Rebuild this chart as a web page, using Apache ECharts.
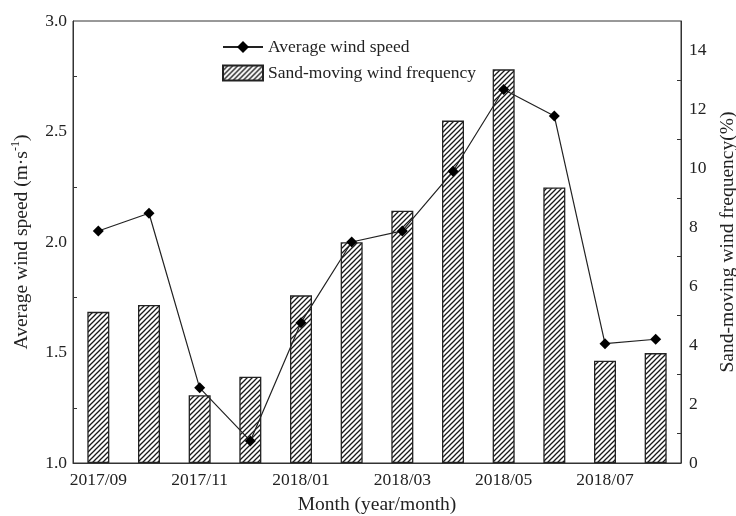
<!DOCTYPE html>
<html>
<head>
<meta charset="utf-8">
<script src="https://cdn.jsdelivr.net/npm/echarts@6/dist/echarts.min.js"></script>
<style>
  html, body { margin: 0; padding: 0; background: #fff; }
  #chart { width: 736px; height: 516px; }
</style>
</head>
<body>
<div id="chart"></div>
<script>
// Monthly observations, Sept 2017 – Aug 2018
const months = ['2017/09', '2017/10', '2017/11', '2017/12', '2018/01', '2018/02',
                '2018/03', '2018/04', '2018/05', '2018/06', '2018/07', '2018/08'];
// Average wind speed, m/s
const windSpeed = [2.05, 2.13, 1.34, 1.10, 1.635, 2.00, 2.05, 2.32, 2.69, 2.57, 1.54, 1.56];
// Sand-moving wind frequency, %
const sandFreq = [5.13, 5.36, 2.30, 2.93, 5.69, 7.49, 8.56, 11.62, 13.36, 9.35, 3.47, 3.73];

const FONT = 'Liberation Serif';
const INK = '#222';
const LABEL_SIZE = 17.5;
const TITLE_SIZE = 19.5;

// diagonal hatch fill for the bars
function hatch() {
  const s = 5;
  const c = document.createElement('canvas');
  c.width = s; c.height = s;
  const g = c.getContext('2d');
  g.fillStyle = '#fff';
  g.fillRect(0, 0, s, s);
  g.strokeStyle = '#1a1a1a';
  g.lineWidth = 1.3;
  g.beginPath();
  g.moveTo(-1, s + 1); g.lineTo(s + 1, -1);
  g.moveTo(-1, 1); g.lineTo(1, -1);
  g.moveTo(s - 1, s + 1); g.lineTo(s + 1, s - 1);
  g.stroke();
  return c;
}
const hatchFill = { image: hatch(), repeat: 'repeat' };

const chart = echarts.init(document.getElementById('chart'));
chart.setOption({
  animation: false,
  textStyle: { fontFamily: FONT, color: INK },
  grid: {
    left: 73, right: 55, top: 21, bottom: 53,
    outerBoundsMode: 'none', containLabel: false,
    show: true, borderColor: '#333', borderWidth: 1
  },
  legend: {
    left: 217, top: 33, orient: 'vertical', itemGap: 8,
    itemWidth: 40, itemHeight: 15,
    textStyle: { fontFamily: FONT, fontSize: LABEL_SIZE, color: INK },
    data: [
      { name: 'Average wind speed' },
      { name: 'Sand-moving wind frequency', icon: 'rect' }
    ]
  },
  xAxis: {
    type: 'category',
    data: months,
    name: 'Month (year/month)',
    nameLocation: 'middle',
    nameGap: 32,
    nameMoveOverlap: false,
    nameTextStyle: { fontFamily: FONT, fontSize: TITLE_SIZE, color: INK },
    axisLine: { lineStyle: { color: '#333' } },
    axisTick: { show: true, inside: true, alignWithLabel: true, interval: 0, length: 5, lineStyle: { color: '#333' } },
    axisLabel: { interval: 1, fontFamily: FONT, fontSize: LABEL_SIZE, color: INK, margin: 8 }
  },
  yAxis: [
    {
      type: 'value', min: 1, max: 3, interval: 0.5,
      name: 'Average wind speed (m·s{sup|-1})',
      nameLocation: 'middle', nameGap: 40,
      nameMoveOverlap: false,
      nameTextStyle: {
        fontFamily: FONT, fontSize: TITLE_SIZE, color: INK,
        rich: { sup: { fontFamily: FONT, fontSize: 12, color: INK, verticalAlign: 'bottom', padding: [0, 0, 11, 0] } }
      },
      axisLine: { show: true, lineStyle: { color: '#333' } },
      axisTick: { inside: true, length: 8, lineStyle: { color: '#333' } },
      minorTick: { show: true, splitNumber: 2, length: 4, lineStyle: { color: '#333' } },
      splitLine: { show: false },
      axisLabel: { fontFamily: FONT, fontSize: LABEL_SIZE, color: INK, margin: 6, formatter: v => v.toFixed(1) }
    },
    {
      type: 'value', min: 0, max: 15, interval: 2,
      name: 'Sand-moving wind frequency(%)',
      nameLocation: 'middle', nameGap: 37, nameRotate: 90,
      nameMoveOverlap: false,
      nameTextStyle: { fontFamily: FONT, fontSize: TITLE_SIZE, color: INK },
      axisLine: { show: true, lineStyle: { color: '#333' } },
      axisTick: { inside: true, length: 8, lineStyle: { color: '#333' } },
      minorTick: { show: true, splitNumber: 2, length: 4, lineStyle: { color: '#333' } },
      splitLine: { show: false },
      axisLabel: { fontFamily: FONT, fontSize: LABEL_SIZE, color: INK, margin: 8, showMaxLabel: false }
    }
  ],
  series: [
    {
      name: 'Sand-moving wind frequency',
      type: 'bar',
      yAxisIndex: 1,
      data: sandFreq,
      barWidth: 22,
      itemStyle: { color: hatchFill, borderColor: '#222', borderWidth: 1.3 }
    },
    {
      name: 'Average wind speed',
      type: 'line',
      yAxisIndex: 0,
      data: windSpeed,
      symbol: 'diamond',
      symbolSize: 11,
      itemStyle: { color: '#000' },
      lineStyle: { color: '#222', width: 1.2 },
      z: 5
    }
  ]
});
</script>
</body>
</html>
